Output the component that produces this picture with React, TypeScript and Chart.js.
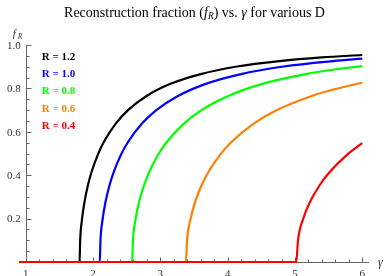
import React, { useEffect, useRef } from "react";
import { Chart, registerables } from "chart.js";

Chart.register(...registerables);

// ---- data ----
const seriesLabels = ["R = 1.2", "R = 1.0", "R = 0.8", "R = 0.6", "R = 0.4"];
const seriesColors = ["#000000", "#0000ff", "#00ff00", "#ff8000", "#ff0000"];

const gammaR12 = [0.9, 1.8, 1.809, 1.836, 1.872, 1.926, 1.98, 2.07, 2.16, 2.34, 2.52, 2.79, 3.15, 3.6, 4.14, 4.77, 5.4, 6.0];
const fR12 = [0, 0, 0.0997, 0.197, 0.275, 0.356, 0.417, 0.494, 0.553, 0.639, 0.7, 0.764, 0.821, 0.866, 0.901, 0.926, 0.943, 0.954];

const gammaR10 = [0.9, 2.1, 2.1105, 2.142, 2.184, 2.247, 2.31, 2.415, 2.52, 2.73, 2.94, 3.255, 3.675, 4.2, 4.83, 5.565, 6.0];
const fR10 = [0, 0, 0.0997, 0.197, 0.275, 0.356, 0.417, 0.494, 0.553, 0.639, 0.7, 0.764, 0.821, 0.866, 0.901, 0.926, 0.937];

const gammaR08 = [0.9, 2.58, 2.593, 2.632, 2.683, 2.761, 2.838, 2.967, 3.096, 3.354, 3.612, 3.999, 4.515, 5.16, 5.6, 6.0];
const fR08 = [0, 0, 0.0997, 0.197, 0.275, 0.356, 0.417, 0.494, 0.553, 0.639, 0.7, 0.764, 0.821, 0.866, 0.8875, 0.903];

const gammaR06 = [0.9, 3.38, 3.397, 3.448, 3.515, 3.617, 3.718, 3.887, 4.056, 4.394, 4.732, 5.239, 5.6, 6.0];
const fR06 = [0, 0, 0.0997, 0.197, 0.275, 0.356, 0.417, 0.494, 0.553, 0.639, 0.7, 0.764, 0.797, 0.826];

const gammaR04 = [0.9, 5.02, 5.045, 5.12, 5.221, 5.371, 5.522, 5.773, 6.0];
const fR04 = [0, 0, 0.0997, 0.197, 0.275, 0.356, 0.417, 0.494, 0.548];

const xTickValues = [1, 2, 3, 4, 5, 6];
const xTickLabels = ["1", "2", "3", "4", "5", "6"];
const yTickValues = [0.2, 0.4, 0.6, 0.8, 1.0];
const yTickLabels = ["0.2", "0.4", "0.6", "0.8", "1.0"];

const xMin = 0.9;
const xMax = 6.1;
const yMin = 0;
const yMax = 1;

const SERIF = '"Liberation Serif", "Times New Roman", serif';

function pts(xs: number[], ys: number[]) {
  return xs.map((x, i) => ({ x, y: ys[i] }));
}

const mmaPlugin = {
  id: "mmaAxes",
  beforeDatasetsDraw(chart: any) {
    const { ctx } = chart;
    const xs = chart.scales.x;
    const ys = chart.scales.y;
    const x0 = Math.round(xs.getPixelForValue(1)) + 0.5;
    const y0 = Math.round(ys.getPixelForValue(0)) + 0.5;
    ctx.save();
    ctx.strokeStyle = "#666666";
    ctx.lineWidth = 1;
    ctx.beginPath();
    ctx.moveTo(xs.left, y0);
    ctx.lineTo(xs.right, y0);
    ctx.moveTo(x0, Math.round(ys.getPixelForValue(1)));
    ctx.lineTo(x0, y0);
    ctx.stroke();
    // x ticks (pointing up)
    ctx.beginPath();
    for (let i = 0; i <= 25; i++) {
      const v = 1 + i * 0.2;
      const major = i % 5 === 0;
      const px = Math.round(xs.getPixelForValue(v)) + 0.5;
      ctx.moveTo(px, y0);
      ctx.lineTo(px, y0 - (major ? 5 : 3));
    }
    // y ticks (pointing right)
    for (let i = 1; i <= 20; i++) {
      const v = i * 0.05;
      const major = i % 4 === 0;
      const py = Math.round(ys.getPixelForValue(v)) + 0.5;
      ctx.moveTo(x0, py);
      ctx.lineTo(x0 + (major ? 5 : 3), py);
    }
    ctx.stroke();
    ctx.restore();
  },
  afterDraw(chart: any) {
    const { ctx } = chart;
    const xs = chart.scales.x;
    const ys = chart.scales.y;
    const x0 = xs.getPixelForValue(1);
    const y0 = ys.getPixelForValue(0);
    ctx.save();
    ctx.fillStyle = "#333333";
    ctx.font = `11px ${SERIF}`;
    ctx.textBaseline = "alphabetic";
    ctx.textAlign = "center";
    xTickValues.forEach((v, i) => {
      ctx.fillText(xTickLabels[i], xs.getPixelForValue(v), y0 + 14.5);
    });
    ctx.textAlign = "right";
    yTickValues.forEach((v, i) => {
      ctx.fillText(yTickLabels[i], x0 - 5, ys.getPixelForValue(v) + 3.7);
    });
    // axis labels
    ctx.textAlign = "left";
    ctx.font = `italic 12px ${SERIF}`;
    ctx.fillText("γ", xs.right + 9, y0 + 4);
    ctx.font = `italic 11px ${SERIF}`;
    ctx.fillText("f", x0 - 13, ys.getPixelForValue(1) - 8);
    ctx.font = `italic 7.5px ${SERIF}`;
    ctx.fillText("R", x0 - 8, ys.getPixelForValue(1) - 6);

    // legend labels
    ctx.font = `bold 11px ${SERIF}`;
    seriesLabels.forEach((lab, i) => {
      ctx.fillStyle = seriesColors[i];
      ctx.fillText(lab, x0 + 16, ys.getPixelForValue(1) + 14.5 + i * 17.45);
    });

    // title
    const segs = [
      { t: "Reconstruction fraction (", f: `14px ${SERIF}`, dy: 0 },
      { t: "f", f: `italic 14px ${SERIF}`, dy: 0 },
      { t: "R", f: `italic 9.5px ${SERIF}`, dy: 2.5 },
      { t: ") vs. ", f: `14px ${SERIF}`, dy: 0 },
      { t: "γ", f: `italic 14px ${SERIF}`, dy: 0 },
      { t: " for various D", f: `14px ${SERIF}`, dy: 0 },
    ];
    let total = 0;
    const widths = segs.map((s) => {
      ctx.font = s.f;
      const w = ctx.measureText(s.t).width;
      total += w;
      return w;
    });
    let cx = 194.5 - total / 2;
    ctx.fillStyle = "#000000";
    segs.forEach((s, i) => {
      ctx.font = s.f;
      ctx.fillText(s.t, cx, 16.8 + s.dy);
      cx += widths[i];
    });
    ctx.restore();
  },
};

export default function App() {
  const ref = useRef<HTMLCanvasElement | null>(null);
  useEffect(() => {
    if (!ref.current) return;
    const all = [
      pts(gammaR12, fR12),
      pts(gammaR10, fR10),
      pts(gammaR08, fR08),
      pts(gammaR06, fR06),
      pts(gammaR04, fR04),
    ];
    const chart = new Chart(ref.current, {
      type: "line",
      data: {
        datasets: all.map((d, i) => ({
          label: seriesLabels[i],
          data: d,
          borderColor: seriesColors[i],
          backgroundColor: seriesColors[i],
          borderWidth: 2.2,
          pointRadius: 0,
          cubicInterpolationMode: "monotone" as const,
          fill: false,
          clip: false as any,
          order: 4 - i,
        })),
      },
      options: {
        responsive: false,
        devicePixelRatio: 1,
        animation: false,
        layout: { padding: { left: 19, right: 16, top: 45, bottom: 14 } },
        plugins: {
          legend: { display: false },
          title: { display: false },
          tooltip: { enabled: false },
        },
        scales: {
          x: { type: "linear", min: xMin, max: xMax, display: false },
          y: { type: "linear", min: yMin, max: yMax, display: false },
        },
      },
      plugins: [mmaPlugin],
    });
    return () => chart.destroy();
  }, []);
  return (
    <div style={{ position: "fixed", left: 0, top: 0, width: 385, height: 276, background: "#fff" }}>
      <canvas ref={ref} width={385} height={276} style={{ width: 385, height: 276 }} />
    </div>
  );
}
